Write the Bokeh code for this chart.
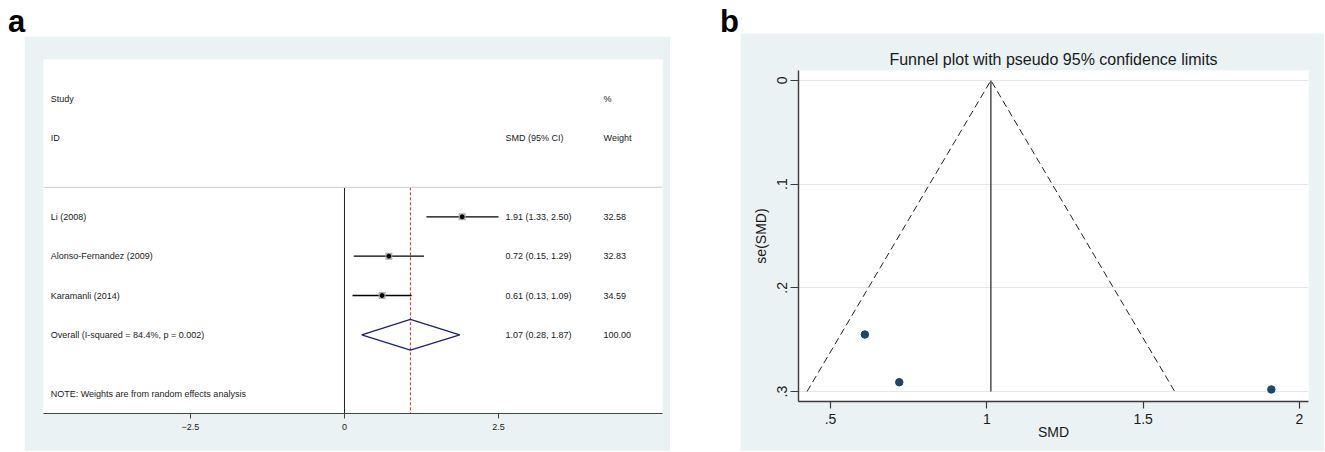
from bokeh.plotting import figure
from bokeh.models import Range1d, FixedTicker, CustomJSTickFormatter, Div, Span
from bokeh.layouts import row, column
from bokeh.embed import file_html
from bokeh.resources import INLINE
from bokeh.core.properties import value

# ---------------- data ----------------
studies = ["Li (2008)", "Alonso-Fernandez (2009)", "Karamanli  (2014)"]
smd = [1.91, 0.72, 0.61]
ci_low = [1.33, 0.15, 0.13]
ci_high = [2.50, 1.29, 1.09]
weights = [32.58, 32.83, 34.59]
overall_label = "Overall  (I-squared = 84.4%, p = 0.002)"
overall_smd = 1.07
overall_low = 0.28
overall_high = 1.87
overall_weight = 100.00
note_text = "NOTE: Weights are from random effects analysis"
forest_ticks = [-2.5, 0, 2.5]

funnel_smd = [1.91, 0.72, 0.61]
funnel_se = [0.298, 0.291, 0.245]
fixed_effect = 1.013
funnel_se_max = 0.30
funnel_xticks = [0.5, 1, 1.5, 2]
funnel_yticks = [0, 0.1, 0.2, 0.3]

# ---------------- styles ----------------
BG = "#eaf2f3"
FONT = "Liberation Sans"
TXT = "#1a1a1a"
fs_small = "9px"

# ---------------- forest plot ----------------
pL = figure(width=646, height=415, x_range=Range1d(-4.886, 5.162), y_range=Range1d(6, -3),
            output_backend="svg", toolbar_location=None, y_axis_location=None,
            min_border_left=19, min_border_right=8, min_border_top=23, min_border_bottom=38,
            border_fill_color=BG, background_fill_color="white", outline_line_color=None,
            margin=(0, 50, 0, 16))
pL.grid.visible = False
ax = pL.xaxis[0]
ax.ticker = FixedTicker(ticks=forest_ticks)
ax.axis_line_color = "#444444"
ax.major_tick_line_color = "#444444"
ax.major_tick_out = 5
ax.major_tick_in = 0
ax.minor_tick_line_color = None
ax.major_label_text_font = FONT
ax.major_label_text_font_size = fs_small
ax.major_label_text_color = TXT
ax.major_label_standoff = 5

rows = [1, 2, 3]
overall_row = 4
sep_row = 0.25
bottom_row = 6

pL.add_layout(Span(location=sep_row, dimension="width", line_color="#cfcfcf", line_width=1))
pL.segment(x0=[0], y0=[sep_row], x1=[0], y1=[bottom_row], line_color="#222222", line_width=1)
pL.segment(x0=[overall_smd], y0=[sep_row], x1=[overall_smd], y1=[bottom_row],
           line_color="#d42a2a", line_width=1, line_dash="3 2")
pL.segment(x0=ci_low, y0=rows, x1=ci_high, y1=rows, line_color="black", line_width=1.3)
pL.scatter(smd, rows, marker="square", size=7, fill_color="#b0b0b0", line_color=None)
pL.scatter(smd, rows, marker="circle", size=4, color="black")
pL.patch([overall_low, overall_smd, overall_high, overall_smd],
         [overall_row, overall_row - 0.39, overall_row, overall_row + 0.39],
         fill_color=None, line_color="#1f1f7a", line_width=1.3)

x_lab, x_smd, x_w = -4.77, 2.614, 4.205
tkw = dict(text_baseline="middle", text_font=value(FONT), text_font_size=fs_small, text_color=TXT)
pL.text(x=[x_lab, x_lab], y=[-2, -1], text=["Study", "ID"], **tkw)
pL.text(x=[x_smd, x_w, x_w], y=[-1, -2, -1], text=["SMD (95% CI)", "%", "Weight"], **tkw)
pL.text(x=[x_lab] * 3, y=rows, text=studies, **tkw)
pL.text(x=[x_smd] * 3, y=rows,
        text=[f"{e:.2f} ({l:.2f}, {h:.2f})" for e, l, h in zip(smd, ci_low, ci_high)], **tkw)
pL.text(x=[x_w] * 3, y=rows, text=[f"{w:.2f}" for w in weights], **tkw)
pL.text(x=[x_lab], y=[overall_row], text=[overall_label], **tkw)
pL.text(x=[x_smd], y=[overall_row], text=[f"{overall_smd:.2f} ({overall_low:.2f}, {overall_high:.2f})"], **tkw)
pL.text(x=[x_w], y=[overall_row], text=[f"{overall_weight:.2f}"], **tkw)
pL.text(x=[x_lab], y=[5.5], text=[note_text], **tkw)

# ---------------- funnel plot ----------------
pR = figure(width=584, height=418, x_range=Range1d(0.3977, 2.0288), y_range=Range1d(0.3096, -0.0096),
            output_backend="svg", toolbar_location=None,
            min_border_left=58, min_border_right=16, min_border_top=37, min_border_bottom=50,
            border_fill_color=BG, background_fill_color="white", outline_line_color=None,
            title="Funnel plot with pseudo 95% confidence limits", margin=(0, 0, 0, 20))
pR.title.align = "center"
pR.title.text_font = FONT
pR.title.text_font_size = "16px"
pR.title.text_font_style = "normal"
pR.title.text_color = TXT
pR.title.standoff = 6

fmt = CustomJSTickFormatter(code="var s = String(tick); return s.replace(/^0\\./, '.');")
for a in (pR.xaxis[0], pR.yaxis[0]):
    a.axis_line_color = "#3a3a3a"
    a.axis_line_width = 1.4
    a.major_tick_line_color = "#3a3a3a"
    a.major_tick_line_width = 1.2
    a.major_tick_in = 0
    a.minor_tick_line_color = None
    a.major_label_text_font = FONT
    a.major_label_text_font_size = "14px"
    a.major_label_text_color = TXT
    a.axis_label_text_font = FONT
    a.axis_label_text_font_size = "14px"
    a.axis_label_text_font_style = "normal"
    a.axis_label_text_color = TXT
    a.formatter = fmt
pR.xaxis[0].ticker = FixedTicker(ticks=funnel_xticks)
pR.yaxis[0].ticker = FixedTicker(ticks=funnel_yticks)
pR.xaxis[0].major_tick_out = 7
pR.yaxis[0].major_tick_out = 8
pR.xaxis[0].major_label_standoff = 5
pR.yaxis[0].major_label_standoff = 3
pR.yaxis[0].major_label_orientation = "vertical"
pR.xaxis[0].axis_label = "SMD"
pR.yaxis[0].axis_label = "se(SMD)"
pR.xaxis[0].axis_label_standoff = -3
pR.yaxis[0].axis_label_standoff = 6

pR.xgrid.visible = False
pR.ygrid.grid_line_color = "#e0eaee"
pR.ygrid.grid_line_width = 1

lo_lim = fixed_effect - 1.96 * funnel_se_max
hi_lim = fixed_effect + 1.96 * funnel_se_max
pR.line([lo_lim, fixed_effect, hi_lim], [funnel_se_max, 0, funnel_se_max],
        line_color="#222222", line_width=1, line_dash="7 4")
pR.segment(x0=[fixed_effect], y0=[0], x1=[fixed_effect], y1=[funnel_se_max],
           line_color="#333333", line_width=1.3)
pR.scatter(funnel_smd, funnel_se, size=7.5, fill_color="#1a476f", line_color="#1a476f")

# ---------------- panel letters ----------------
letter_style = {"font-family": FONT, "font-size": "31px", "font-weight": "bold",
                "line-height": "28px", "color": "black"}
divA = Div(text="a", width=712, height=28, margin=0, styles=letter_style)
divB = Div(text="b", width=604, height=25, margin=0, styles=letter_style)

layout = row(column(divA, pL), column(divB, pR), margin=(8, 0, 0, 8))
open("out.html", "w").write(file_html(layout, INLINE))
